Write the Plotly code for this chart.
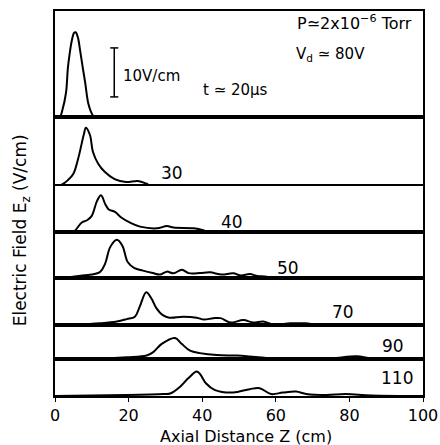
import plotly.graph_objects as go
from plotly.subplots import make_subplots

# ---- data ----
times_us = [20, 30, 40, 50, 70, 90, 110]

z20 = [0, 1.3, 2.0, 3.0, 3.5, 4.0, 4.6, 5.2, 5.6, 6.2, 6.8, 7.5, 8.2, 9.0, 9.7, 10.4, 11.0, 100]
e20 = [0, 0, 1.4, 5.0, 10.0, 13.0, 15.7, 17.2, 17.3, 16.3, 13.7, 10.3, 7.0, 2.9, 1.2, 0.2, 0, 0]

z30 = [0, 1.1, 2.5, 3.5, 5.0, 6.3, 7.8, 8.4, 9.5, 10.3, 11.7, 13.5, 16.2, 19.3, 22.5, 24.8, 26.2, 100]
e30 = [0, 0, 0.6, 1.2, 2.5, 5.6, 10.4, 11.9, 10.4, 7.0, 4.6, 2.9, 1.4, 0.8, 1.0, 0.5, 0, 0]

z40 = [0, 4.9, 7.2, 8.7, 10.0, 11.4, 12.5, 13.7, 14.6, 16.3, 18.1, 20.4, 23.1, 27.7, 30.4, 32.2, 37.7, 40.0, 41.8, 100]
e40 = [0, 0, 1.9, 2.4, 3.3, 6.3, 7.5, 5.6, 4.6, 4.1, 2.9, 1.9, 1.1, 0.75, 1.2, 0.9, 0.75, 0.4, 0, 0]

z50 = [0, 1.4, 7.5, 12.2, 13.6, 15.0, 16.8, 18.3, 19.8, 21.6, 23.9, 26.6, 28.5, 30.4, 32.2, 34.5, 36.3, 39.4,
       42.1, 45.3, 48.4, 50.6, 52.9, 55.0, 57.0, 60.0, 100]
e50 = [0, 0, 0.5, 1.2, 2.9, 6.3, 7.8, 6.6, 3.2, 2.0, 1.5, 1.0, 0.7, 1.3, 0.95, 1.7, 1.0, 1.0,
       1.15, 0.7, 0.95, 0.5, 0.8, 0.4, 0.3, 0, 0]

z70 = [0, 5.9, 12.2, 16.8, 19.5, 21.7, 23.0, 24.8, 26.2, 27.5, 29.3, 31.1, 34.8, 38.5, 40.5, 43.0, 45.0,
       47.6, 51.2, 53.9, 56.6, 59.3, 64.0, 68.0, 72.0, 100]
e70 = [0, 0.1, 0.35, 0.7, 1.2, 1.7, 3.7, 6.7, 5.4, 3.5, 2.0, 1.5, 1.7, 1.5, 1.1, 1.4, 1.4,
       0.5, 1.0, 0.5, 0.7, 0.1, 0.35, 0.35, 0, 0]

z90 = [0, 12.2, 19.5, 24.9, 26.7, 29.0, 32.6, 34.4, 36.7, 39.4, 44.0, 49.5, 53.0, 57.5, 66.6, 75.0, 82.0, 86.0, 100]
e90 = [0, 0.1, 0.35, 0.7, 1.4, 3.1, 4.3, 3.1, 1.7, 1.2, 0.8, 0.7, 0.5, 0.2, 0.2, 0.15, 0.55, 0.1, 0]

z110 = [0, 19.5, 29.5, 31.3, 34.0, 36.2, 38.5, 39.4, 41.0, 43.5, 48.4, 52.9, 55.6, 58.7, 61.9, 65.5, 68.3,
        73.7, 79.0, 86.0, 100]
e110 = [0, 0.2, 0.4, 0.5, 1.9, 3.6, 5.0, 4.5, 2.6, 1.2, 0.7, 1.4, 1.6, 0.4, 0.7, 0.9, 0.4,
        0.2, 0.4, 0.1, 0]

series_z = [z20, z30, z40, z50, z70, z90, z110]
series_e = [e20, e30, e40, e50, e70, e90, e110]

label_texts = ["30", "40", "50", "70", "90", "110"]
x_ticks = [0, 20, 40, 60, 80, 100]

# ---- layout constants ----
panel_px = [106, 69, 46, 46, 47, 34, 37]   # panel heights in pixels
px_per_unit = 4.9                          # pixels per V/cm
FONT = "DejaVu Sans"

fig = make_subplots(rows=7, cols=1, shared_xaxes=True, vertical_spacing=0,
                    row_heights=panel_px)

for i, (zs, es) in enumerate(zip(series_z, series_e)):
    fig.add_trace(go.Scatter(x=zs, y=es, mode="lines", line=dict(color="black", width=2),
                             line_shape="spline", showlegend=False, hoverinfo="skip"),
                  row=i + 1, col=1)
    fig.update_yaxes(range=[0, panel_px[i] / px_per_unit], showticklabels=False, ticks="",
                     showgrid=False, zeroline=False, showline=True, linecolor="black",
                     linewidth=1.5, mirror=True, automargin=False, row=i + 1, col=1)
    fig.update_xaxes(range=[0, 100], showgrid=False, zeroline=False, showline=True,
                     linecolor="black", linewidth=1.5, mirror=True, automargin=False,
                     row=i + 1, col=1,
                     showticklabels=(i == 6), ticks=("outside" if i == 6 else ""),
                     tickvals=x_ticks, ticklen=4, tickcolor="black",
                     tickfont=dict(family=FONT, size=16, color="black"))

# panel labels (time in microseconds)
label_pos = [(31.8, 2.65), (48.1, 2.0), (63.3, 2.0), (78.3, 2.65), (91.8, 2.65), (93.0, 3.7)]
for k, (txt, (lx, ly)) in enumerate(zip(label_texts, label_pos)):
    r = k + 2
    fig.add_annotation(x=lx, y=ly, xref=f"x{r}", yref=f"y{r}", text=txt, showarrow=False,
                       font=dict(family=FONT, size=17, color="black"),
                       xanchor="center", yanchor="middle")

# scale bar 10 V/cm in panel 1
bar_x, bar_y0, bar_len = 16.1, 4.1, 10
fig.add_shape(type="line", xref="x", yref="y", x0=bar_x, x1=bar_x, y0=bar_y0, y1=bar_y0 + bar_len,
              line=dict(color="black", width=1.5))
for yy in (bar_y0, bar_y0 + bar_len):
    fig.add_shape(type="line", xref="x", yref="y", x0=bar_x - 1.1, x1=bar_x + 1.1, y0=yy, y1=yy,
                  line=dict(color="black", width=1.5))
fig.add_annotation(x=18.0, y=8.4, xref="x", yref="y", text="10V/cm", showarrow=False,
                   xanchor="left", yanchor="middle", font=dict(family=FONT, size=15, color="black"))
fig.add_annotation(x=49.0, y=5.5, xref="x", yref="y", text="t ≃ 20μs", showarrow=False,
                   xanchor="center", yanchor="middle", font=dict(family=FONT, size=15, color="black"))
fig.add_annotation(x=97.5, y=19.2, xref="x", yref="y", text="P≃2x10<sup>−6</sup> Torr", showarrow=False,
                   xanchor="right", yanchor="middle", font=dict(family=FONT, size=16, color="black"))
fig.add_annotation(x=65.0, y=12.7, xref="x", yref="y", text="V<sub>d</sub> ≃ 80V", showarrow=False,
                   xanchor="left", yanchor="middle", font=dict(family=FONT, size=15, color="black"))

# axis titles
fig.add_annotation(x=-0.09, y=0.43, xref="paper", yref="paper", text="Electric Field E<sub>z</sub> (V/cm)",
                   textangle=-90, showarrow=False, xanchor="center", yanchor="middle",
                   font=dict(family=FONT, size=17, color="black"))
fig.add_annotation(x=0.52, y=-0.104, xref="paper", yref="paper", text="Axial Distance Z (cm)",
                   showarrow=False, xanchor="center", yanchor="middle",
                   font=dict(family=FONT, size=16, color="black"))

fig.update_layout(width=440, height=445, margin=dict(l=55, r=17, t=11, b=49, autoexpand=False),
                  plot_bgcolor="white", paper_bgcolor="white", showlegend=False)

fig.write_html("out.html")
